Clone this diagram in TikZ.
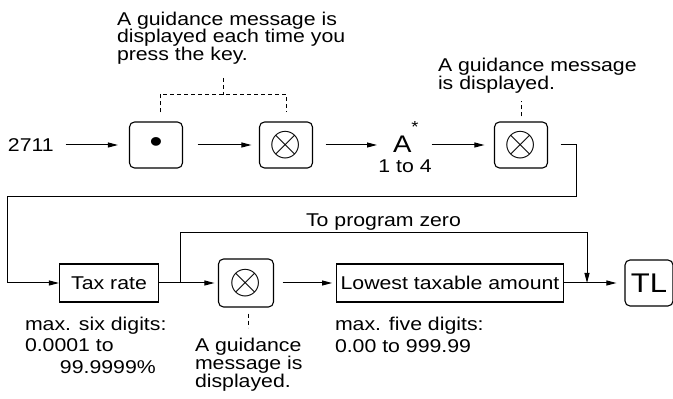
\documentclass[tikz,border=0pt]{standalone}
\usepackage{fontspec}
\setmainfont{Liberation Sans}[FakeStretch=1.15]
\usetikzlibrary{arrows.meta, positioning, calc}
\tikzset{
  keybox/.style={rectangle, draw, rounded corners=5pt, line width=1.1pt,
                 minimum width=53pt, minimum height=46pt, inner sep=0pt},
  entry/.style={rectangle, draw, line width=1.1pt,
                minimum height=38pt, inner sep=4pt},
  plain/.style={inner sep=0pt, outer sep=0pt},
  note/.style={plain, align=left, anchor=north west},
  arr/.style={-{Triangle[length=10pt,width=5pt]}, line width=1pt,
              shorten <=12pt, shorten >=9pt},
  guide/.style={dash pattern=on 4pt off 3pt, line width=1pt},
}
\newcommand{\xkey}{\scalebox{2.4}{$\otimes$}}

\begin{document}
\begin{tikzpicture}[x=1pt, y=1pt, font=\fontsize{18.5}{17.5}\selectfont]
  \useasboundingbox (0,0) rectangle (673,399);

  \node[plain, anchor=west] (num) at (8,254) {2711};
  \node[keybox] (dot) at (156,254) {\fontsize{32}{32}\selectfont\textbullet};
  \node[keybox] (mul1) at (286,254) {\xkey};
  \node[plain, anchor=base west] (acode) at (393,246)
    {\fontsize{24}{24}\selectfont A\raisebox{20pt}{\fontsize{16}{16}\selectfont *}};
  \node[plain, anchor=base] (arange) at (405,226) {1 to 4};
  \node[keybox] (mul2) at (521,254) {\xkey};

  \node[entry, minimum width=99pt] (tax) at (109,116) {Tax rate};
  \node[keybox, minimum width=55pt, minimum height=48pt] (mul3) at (246,116) {\xkey};
  \node[entry, minimum width=226pt] (low) at (450,116) {Lowest taxable amount};
  \node[keybox, minimum width=48pt] (tl) at (649,116) {\fontsize{27}{27}\selectfont TL};

  \node[note] (gtext) at (117,387)
    {A guidance message is\\displayed each time you\\press the key.};
  \node[note, font=\fontsize{18.5}{18}\selectfont] (rtext) at (438,341)
    {A guidance message\\is displayed.};
  \node[note, font=\fontsize{18.5}{21.5}\selectfont] (taxtext) at (25,82)
    {max. six digits:\\0.0001 to\\\hspace*{35pt}99.9999\%};
  \node[note, font=\fontsize{18.5}{18}\selectfont] (mtext) at (195,61)
    {A guidance\\message is\\displayed.};
  \node[note, font=\fontsize{18.5}{22}\selectfont] (lowtext) at (335,82)
    {max. five digits:\\0.00 to 999.99};

  \coordinate (gtop) at (223,321);
  \coordinate (bendR) at (576,202);
  \coordinate (bendL) at (7,202);
  \coordinate (skipA) at (180,116);
  \coordinate (skipTop) at (180,166);
  \coordinate (skipB) at (587,116);

  \draw[arr, shorten >=11pt] (num) -- (dot);
  \draw[arr, shorten <=14.5pt, shorten >=7.5pt] (dot) -- (mul1);
  \draw[arr, shorten <=12.5pt, shorten >=16pt] (mul1.east) -- (acode.west |- mul1.east);
  \draw[arr, shorten <=13pt, shorten >=9.5pt] (acode.east |- mul2.west) -- (mul2.west);
  \draw[arr, shorten <=12.5pt, shorten >=0pt] (mul2.east) -| (bendR) -- (bendL) |- (tax.west);
  \draw[arr, shorten <=0pt, shorten >=3.5pt] (tax) -- (mul3);
  \draw[arr, shorten <=8.5pt, shorten >=4pt] (mul3) -- (low);
  \draw[arr, shorten <=0pt, shorten >=8pt] (low) -- (tl);
  \draw[arr, shorten <=0pt, shorten >=0pt] (skipA) -- (skipTop)
    -| node[pos=0.25, above, inner sep=2pt] {To program zero} (skipB);

  \draw[guide] ([xshift=4pt, yshift=9pt]dot.north) -- ++(0,18) -| ([yshift=9pt]mul1.north);
  \draw[guide] (gtop) -- ++(0,-17);
  \draw[guide] ([yshift=5pt]mul2.north) -- ++(0,15);
  \draw[guide] ([xshift=2pt, yshift=-6pt]mul3.south) -- ++(0,-14);
\end{tikzpicture}
\end{document}
